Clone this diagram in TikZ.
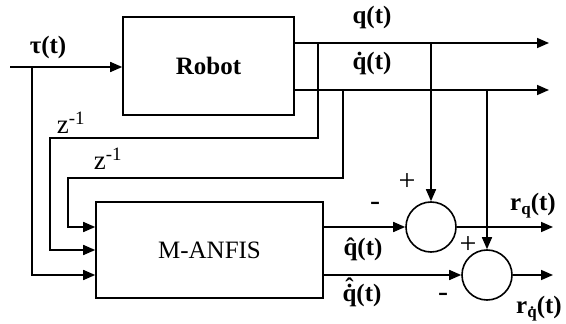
\documentclass[tikz,border=0pt]{standalone}
\usepackage{fontspec}
\setmainfont{Liberation Serif}
\usetikzlibrary{arrows.meta,positioning}
\newcommand{\dqhat}{\leavevmode\ooalign{q̇\cr\hidewidth\raisebox{0.22em}{\char"02C6}\hidewidth\cr}}

\begin{document}
\begin{tikzpicture}[x=1pt,y=-1pt,line width=1.6pt,>={Triangle[length=12pt,width=10pt]},
  block/.style={draw,inner sep=0pt,font=\fontsize{25}{27}\selectfont},
  sumnode/.style={draw,circle,minimum size=50pt,inner sep=0pt},
  lbl/.style={font=\fontsize{25}{27}\selectfont\bfseries,inner sep=0pt},
  sgn/.style={font=\fontsize{30}{32}\selectfont,inner sep=0pt},
  dly/.style={font=\fontsize{27}{29}\selectfont,inner sep=0pt}]
\useasboundingbox (0,0) rectangle (566,324);
% blocks
\node[block,minimum width=171pt,minimum height=98pt] (robot) at (208.5,66) {\bfseries Robot};
\node[block,minimum width=227pt,minimum height=96pt] (anfis) at (209.5,250) {M-ANFIS};
\node[sumnode] (sumq) at (431,227) {};
\node[sumnode] (sumdq) at (487,275) {};
% signal points
\coordinate (tin) at (10,67);
\coordinate (tbr) at (32,67);
\coordinate (qa) at (294,43);
\coordinate (qe) at (549,43);
\coordinate (dqa) at (294,90);
\coordinate (dqe) at (549,90);
\coordinate (rqe) at (553,227);
\coordinate (rdqe) at (553,275);
% forward paths
\draw[->] (tin) -- (tin -| robot.west);
\draw[->] (qa) -- (qe);
\draw[->] (dqa) -- (dqe);
% delayed feedback into M-ANFIS
\draw[->] (318,43) |- (50,138) |- (anfis.west);
\draw[->] (343,90) |- (68,178) |- ([yshift=23pt]anfis.west);
\draw[->] (tbr) |- ([yshift=-25pt]anfis.west);
% estimates and residuals
\draw[->] ([yshift=23pt]anfis.east) -- (sumq.west);
\draw[->] ([yshift=-25pt]anfis.east) -- (sumdq.west);
\draw[->] (sumq |- qa) -- (sumq.north);
\draw[->] (sumdq |- dqa) -- (sumdq.north);
\draw[->] (sumq.east) -- (rqe);
\draw[->] (sumdq.east) -- (rdqe);
% labels
\node[lbl] (ltau) at (48,47) {τ(t)};
\node[lbl] (lq) at (372,17) {q(t)};
\node[lbl] (ldq) at (372,63) {q̇(t)};
\node[dly] (lz1) at (71,123) {z\textsuperscript{-1}};
\node[dly] (lz2) at (108,159) {z\textsuperscript{-1}};
\node[sgn] (pq) at (407,182) {+};
\node[sgn] (mq) at (375,206) {-};
\node[lbl] (lqh) at (363,249) {q̂(t)};
\node[sgn] (pdq) at (468,245) {+};
\node[lbl] (ldqh) at (362,295) {\dqhat(t)};
\node[sgn] (mdq) at (443,297) {-};
\node[lbl] (lrq) at (533,206) {r\raisebox{-0.35ex}{\fontsize{17}{18}\selectfont q}(t)};
\node[lbl] (lrdq) at (539,309) {r\raisebox{-0.35ex}{\fontsize{17}{18}\selectfont q̇}(t)};
\end{tikzpicture}
\end{document}
